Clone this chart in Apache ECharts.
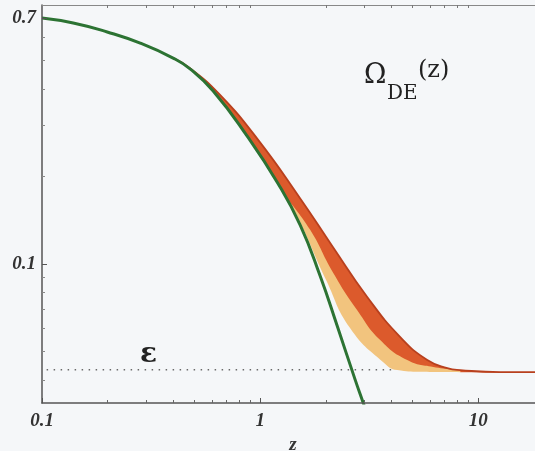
<!DOCTYPE html>
<html>
<head>
<meta charset="utf-8">
<script src="https://cdn.jsdelivr.net/npm/echarts@6/dist/echarts.min.js"></script>
<style>
  html, body { margin: 0; padding: 0; background: #f5f7f9; }
  #chart { width: 535px; height: 451px; }
</style>
</head>
<body>
<div id="chart"></div>
<script>
// axis ranges
var zMin = 0.1, zMax = 20
var yMin = 0.0333, yMax = 0.776
var xMajor = [0.1, 1, 10]
var xMinor = [0.2, 0.3, 0.4, 0.5, 0.6, 0.7, 0.8, 0.9, 2, 3, 4, 5, 6, 7, 8, 9, 20]
var yMajor = [0.1, 0.7]
var yMinor = [0.04, 0.05, 0.06, 0.07, 0.08, 0.09, 0.2, 0.3, 0.4, 0.5, 0.6]

// green curve
var greenZ = [0.1, 0.139, 0.199, 0.282, 0.399, 0.477, 0.609, 0.872, 1.197, 1.526, 1.884, 2.256, 2.729, 2.969, 3.196]
var greenV = [0.700, 0.673, 0.627, 0.574, 0.510, 0.468, 0.393, 0.275, 0.191, 0.136, 0.0909, 0.0612, 0.0399, 0.0333, 0.0284]

// upper (red) edge of the band, running into the flat tail
var upperZ = [0.399, 0.477, 0.655, 0.979, 1.526, 2.162, 3.096, 4.387, 5.834, 7.206, 8.27, 12.6, 20]
var upperV = [0.510, 0.471, 0.381, 0.267, 0.168, 0.114, 0.0770, 0.0561, 0.0468, 0.0439, 0.0432, 0.0425, 0.0425]

// red -> yellow change inside the band
var midZ = [1.344, 1.695, 2.163, 2.786, 3.55, 4.72, 6.22, 8.27]
var midV = [0.166, 0.131, 0.0932, 0.0694, 0.0548, 0.0468, 0.0443, 0.0432]

// lower (yellow) edge of the band
var lowerZ = [0.1, 0.139, 0.199, 0.282, 0.399, 0.477, 0.609, 0.872, 1.197, 1.344, 1.526, 2.008, 2.587, 3.666, 4.25, 5.42, 8.27, 20]
var lowerV = [0.700, 0.673, 0.627, 0.574, 0.510, 0.468, 0.393, 0.275, 0.191, 0.166, 0.139, 0.0880, 0.0602, 0.0460, 0.0432, 0.0426, 0.0425, 0.0423]

// epsilon level (dotted)
var epsZ = [0.105, 4.0]
var epsV = [0.0433, 0.0433]

function pairs(xs, ys) {
  return xs.map(function (x, i) { return [x, ys[i]] })
}

var bg = '#f5f7f9'
var labelFont = {
  fontFamily: 'Liberation Serif',
  fontStyle: 'italic',
  fontWeight: 'bold',
  fontSize: 19,
  color: '#333'
}

var chart = echarts.init(document.getElementById('chart'))
chart.setOption({
  backgroundColor: bg,
  animation: false,
  grid: {
    left: 42,
    right: -9,
    top: 5,
    bottom: 48,
    containLabel: false,
    outerBoundsMode: 'none'
  },
  xAxis: [
    {
      type: 'log', logBase: 10, min: zMin, max: zMax,
      position: 'bottom', z: 10,
      axisLine: { lineStyle: { color: '#555', width: 1.5 } },
      axisTick: { inside: true, length: 5, customValues: xMajor, lineStyle: { color: '#555' } },
      axisLabel: Object.assign({ customValues: xMajor, margin: 9,
        formatter: function (v) { return String(+(+v).toPrecision(3)) } }, labelFont),
      splitLine: { show: false },
      name: 'z', nameLocation: 'middle', nameGap: 30,
      nameTextStyle: labelFont
    },
    {
      type: 'log', logBase: 10, min: zMin, max: zMax,
      position: 'bottom', z: 10,
      axisLine: { show: false },
      axisTick: { inside: true, length: 3, customValues: xMinor, lineStyle: { color: '#666' } },
      axisLabel: { show: false },
      splitLine: { show: false }
    },
    {
      type: 'log', logBase: 10, min: zMin, max: zMax,
      position: 'top', z: 10,
      axisLine: { lineStyle: { color: '#888', width: 1 } },
      axisTick: { inside: true, length: 3, customValues: xMinor, lineStyle: { color: '#777' } },
      axisLabel: { show: false },
      splitLine: { show: false }
    }
  ],
  yAxis: [
    {
      type: 'log', logBase: 10, min: yMin, max: yMax,
      position: 'left', z: 10,
      axisLine: { lineStyle: { color: '#555', width: 1.5 } },
      axisTick: { inside: true, length: 5, customValues: yMajor, lineStyle: { color: '#555' } },
      axisLabel: Object.assign({ customValues: yMajor, margin: 6,
        formatter: function (v) { return String(+(+v).toPrecision(3)) } }, labelFont),
      splitLine: { show: false }
    },
    {
      type: 'log', logBase: 10, min: yMin, max: yMax,
      position: 'left', z: 10,
      axisLine: { show: false },
      axisTick: { inside: true, length: 3, customValues: yMinor, lineStyle: { color: '#888' } },
      axisLabel: { show: false },
      splitLine: { show: false }
    }
  ],
  series: [
    {
      name: 'band top', type: 'line', smooth: 0.5, symbol: 'none',
      data: pairs(upperZ, upperV),
      lineStyle: { width: 0 },
      areaStyle: { color: '#dc5a2c', opacity: 1, origin: yMin }
    },
    {
      name: 'band mid', type: 'line', smooth: 0.5, symbol: 'none',
      data: pairs(midZ, midV),
      lineStyle: { width: 0 },
      areaStyle: { color: '#f2c47e', opacity: 1, origin: yMin }
    },
    {
      name: 'band low', type: 'line', smooth: 0.5, symbol: 'none',
      data: pairs(lowerZ, lowerV),
      lineStyle: { width: 0 },
      areaStyle: { color: bg, opacity: 1, origin: yMin }
    },
    {
      name: 'epsilon', type: 'line', symbol: 'none',
      data: pairs(epsZ, epsV),
      lineStyle: { color: '#6a6a6a', width: 1.5, type: [1.5, 5.5] }
    },
    {
      name: 'upper edge', type: 'line', smooth: 0.5, symbol: 'none',
      data: pairs(upperZ, upperV),
      lineStyle: { color: '#b8401e', width: 1.8 }
    },
    {
      name: 'green', type: 'line', smooth: 0.5, symbol: 'none',
      data: pairs(greenZ, greenV),
      lineStyle: { color: '#2c7333', width: 3 }
    }
  ],
  graphic: [
    { type: 'text', z: 100, left: 364, top: 62, style: { text: 'Ω', font: '27px "DejaVu Serif"', fill: '#222' } },
    { type: 'text', z: 100, left: 387, top: 84, style: { text: 'DE', font: '20px "DejaVu Serif"', fill: '#222' } },
    { type: 'text', z: 100, left: 418, top: 59, style: { text: '(z)', font: '24px "DejaVu Serif"', fill: '#222' } },
    { type: 'text', z: 100, left: 140, top: 341, style: { text: 'ε', font: 'bold 28px "DejaVu Serif"', fill: '#222' } }
  ]
})
</script>
</body>
</html>
